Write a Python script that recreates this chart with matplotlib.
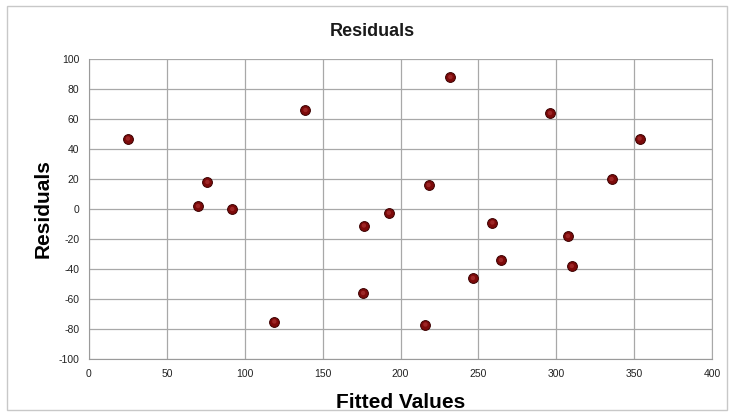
import numpy as np
import matplotlib
matplotlib.use("Agg")
import matplotlib.pyplot as plt
from matplotlib.patches import Rectangle

# Values
fitted = [25, 70, 76, 92, 119, 139, 176.5, 176, 192.5, 218,
          216, 232, 246.5, 259, 264.5, 296, 307.5, 310, 335.5, 353.5]
residuals = [47, 2, 18, 0, -75, 66, -11, -56, -2.5, 16,
             -77, 88, -46, -9, -34, 64, -18, -38, 20, 47]

x_ticks = list(range(0, 401, 50))
y_ticks = list(range(-100, 101, 20))

plt.rcParams['font.family'] = ['Liberation Sans Narrow', 'Liberation Sans', 'DejaVu Sans']
plt.rcParams['axes.unicode_minus'] = False

fig = plt.figure(figsize=(7.34, 4.16), dpi=100)
ax = fig.add_axes([89 / 734, 1 - 359 / 416, (712 - 89) / 734, 300 / 416])

# outer chart border
fig.patches.append(Rectangle((7 / 734, 6 / 416), 720 / 734, 404 / 416,
                             transform=fig.transFigure, fill=False,
                             edgecolor='#c8c8c8', linewidth=1.0))

ax.scatter(fitted, residuals, s=50, color='#7d0a0a', edgecolor='#3a0000',
           linewidth=0.7, zorder=3)
ax.scatter(fitted, residuals, s=10, color='#b33a3a', edgecolor='none',
           zorder=4, alpha=0.6)

ax.set_xlim(0, 400)
ax.set_ylim(-100, 100)
ax.set_xticks(x_ticks)
ax.set_yticks(y_ticks)
ax.tick_params(length=0, labelsize=7.5, colors='#222222', pad=7)
ax.grid(True, color='#a8a8a8', linewidth=0.9)
ax.set_axisbelow(True)
for side in ['left', 'bottom']:
    ax.spines[side].set_color('#9a9a9a')
ax.spines['top'].set_visible(False)
ax.spines['right'].set_color('#a8a8a8')

fig.text(372 / 734, 1 - 32 / 416, 'Residuals', ha='center', va='center',
         fontsize=13, fontweight='bold', color='#1a1a1a')
ax.set_xlabel('Fitted Values', fontsize=15, fontweight='bold', labelpad=10)
ax.set_ylabel('Residuals', fontsize=15, fontweight='bold', labelpad=4)

fig.savefig('out.png', dpi=100)
